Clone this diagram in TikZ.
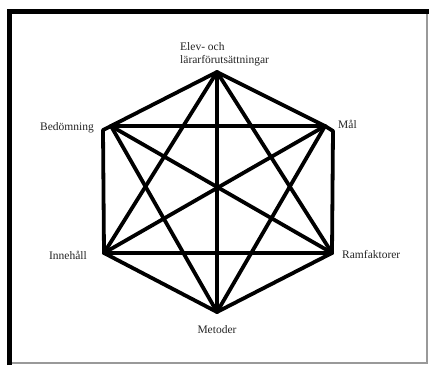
\documentclass[tikz,border=0pt]{standalone}
\usepackage{fontspec}
\setmainfont{Liberation Serif}
\usetikzlibrary{positioning}

\begin{document}
\begin{tikzpicture}[
  x=1pt, y=-1pt,
  font=\fontsize{11.5}{12.5}\selectfont,
  edge/.style={line width=3.8pt, draw=black, line cap=round, line join=round},
  frame/.style={line width=5pt, draw=black},
  tag/.style={text=black!85, inner sep=1pt}
]

  \useasboundingbox (0,0) rectangle (429,365);
  \fill[white] (0,0) rectangle (429,365);
  \draw[black!40, line width=1.2pt] (427,14) -- (427,363) -- (12,363);
  \draw[frame] (9.5,365) -- (9.5,11.5) -- (429,11.5);

  % corners of the hexagon
  \coordinate (elev) at (217,72);
  \coordinate (mal) at (325,126);
  \coordinate (malK) at (333,131);
  \coordinate (ram) at (332,253);
  \coordinate (met) at (217,312);
  \coordinate (inn) at (104,253);
  \coordinate (bedK) at (103,130);
  \coordinate (bed) at (111,126);

  % sides
  \draw[edge] (elev) -- (mal) -- (malK) -- (ram) -- (met) -- (inn) -- (bedK) -- (bed) -- (elev);

  % diagonals
  \foreach \a/\b in {elev/ram, elev/met, elev/inn, mal/bed, mal/inn, mal/met, ram/bed, ram/inn, met/bed} {
    \draw[edge] (\a) -- (\b);
  }

  \node[tag, anchor=west, align=left] (lElev) at (179,54) {Elev- och\\lärarförutsättningar};
  \node[tag, anchor=west] (lMal) at (337,124) {Mål};
  \node[tag, anchor=east] (lBed) at (95,128) {Bedömning};
  \node[tag, anchor=east] (lInn) at (88,255) {Innehåll};
  \node[tag, anchor=west] (lRam) at (341,255) {Ramfaktorer};
  \node[tag] (lMet) at (217,330) {Metoder};

\end{tikzpicture}
\end{document}
